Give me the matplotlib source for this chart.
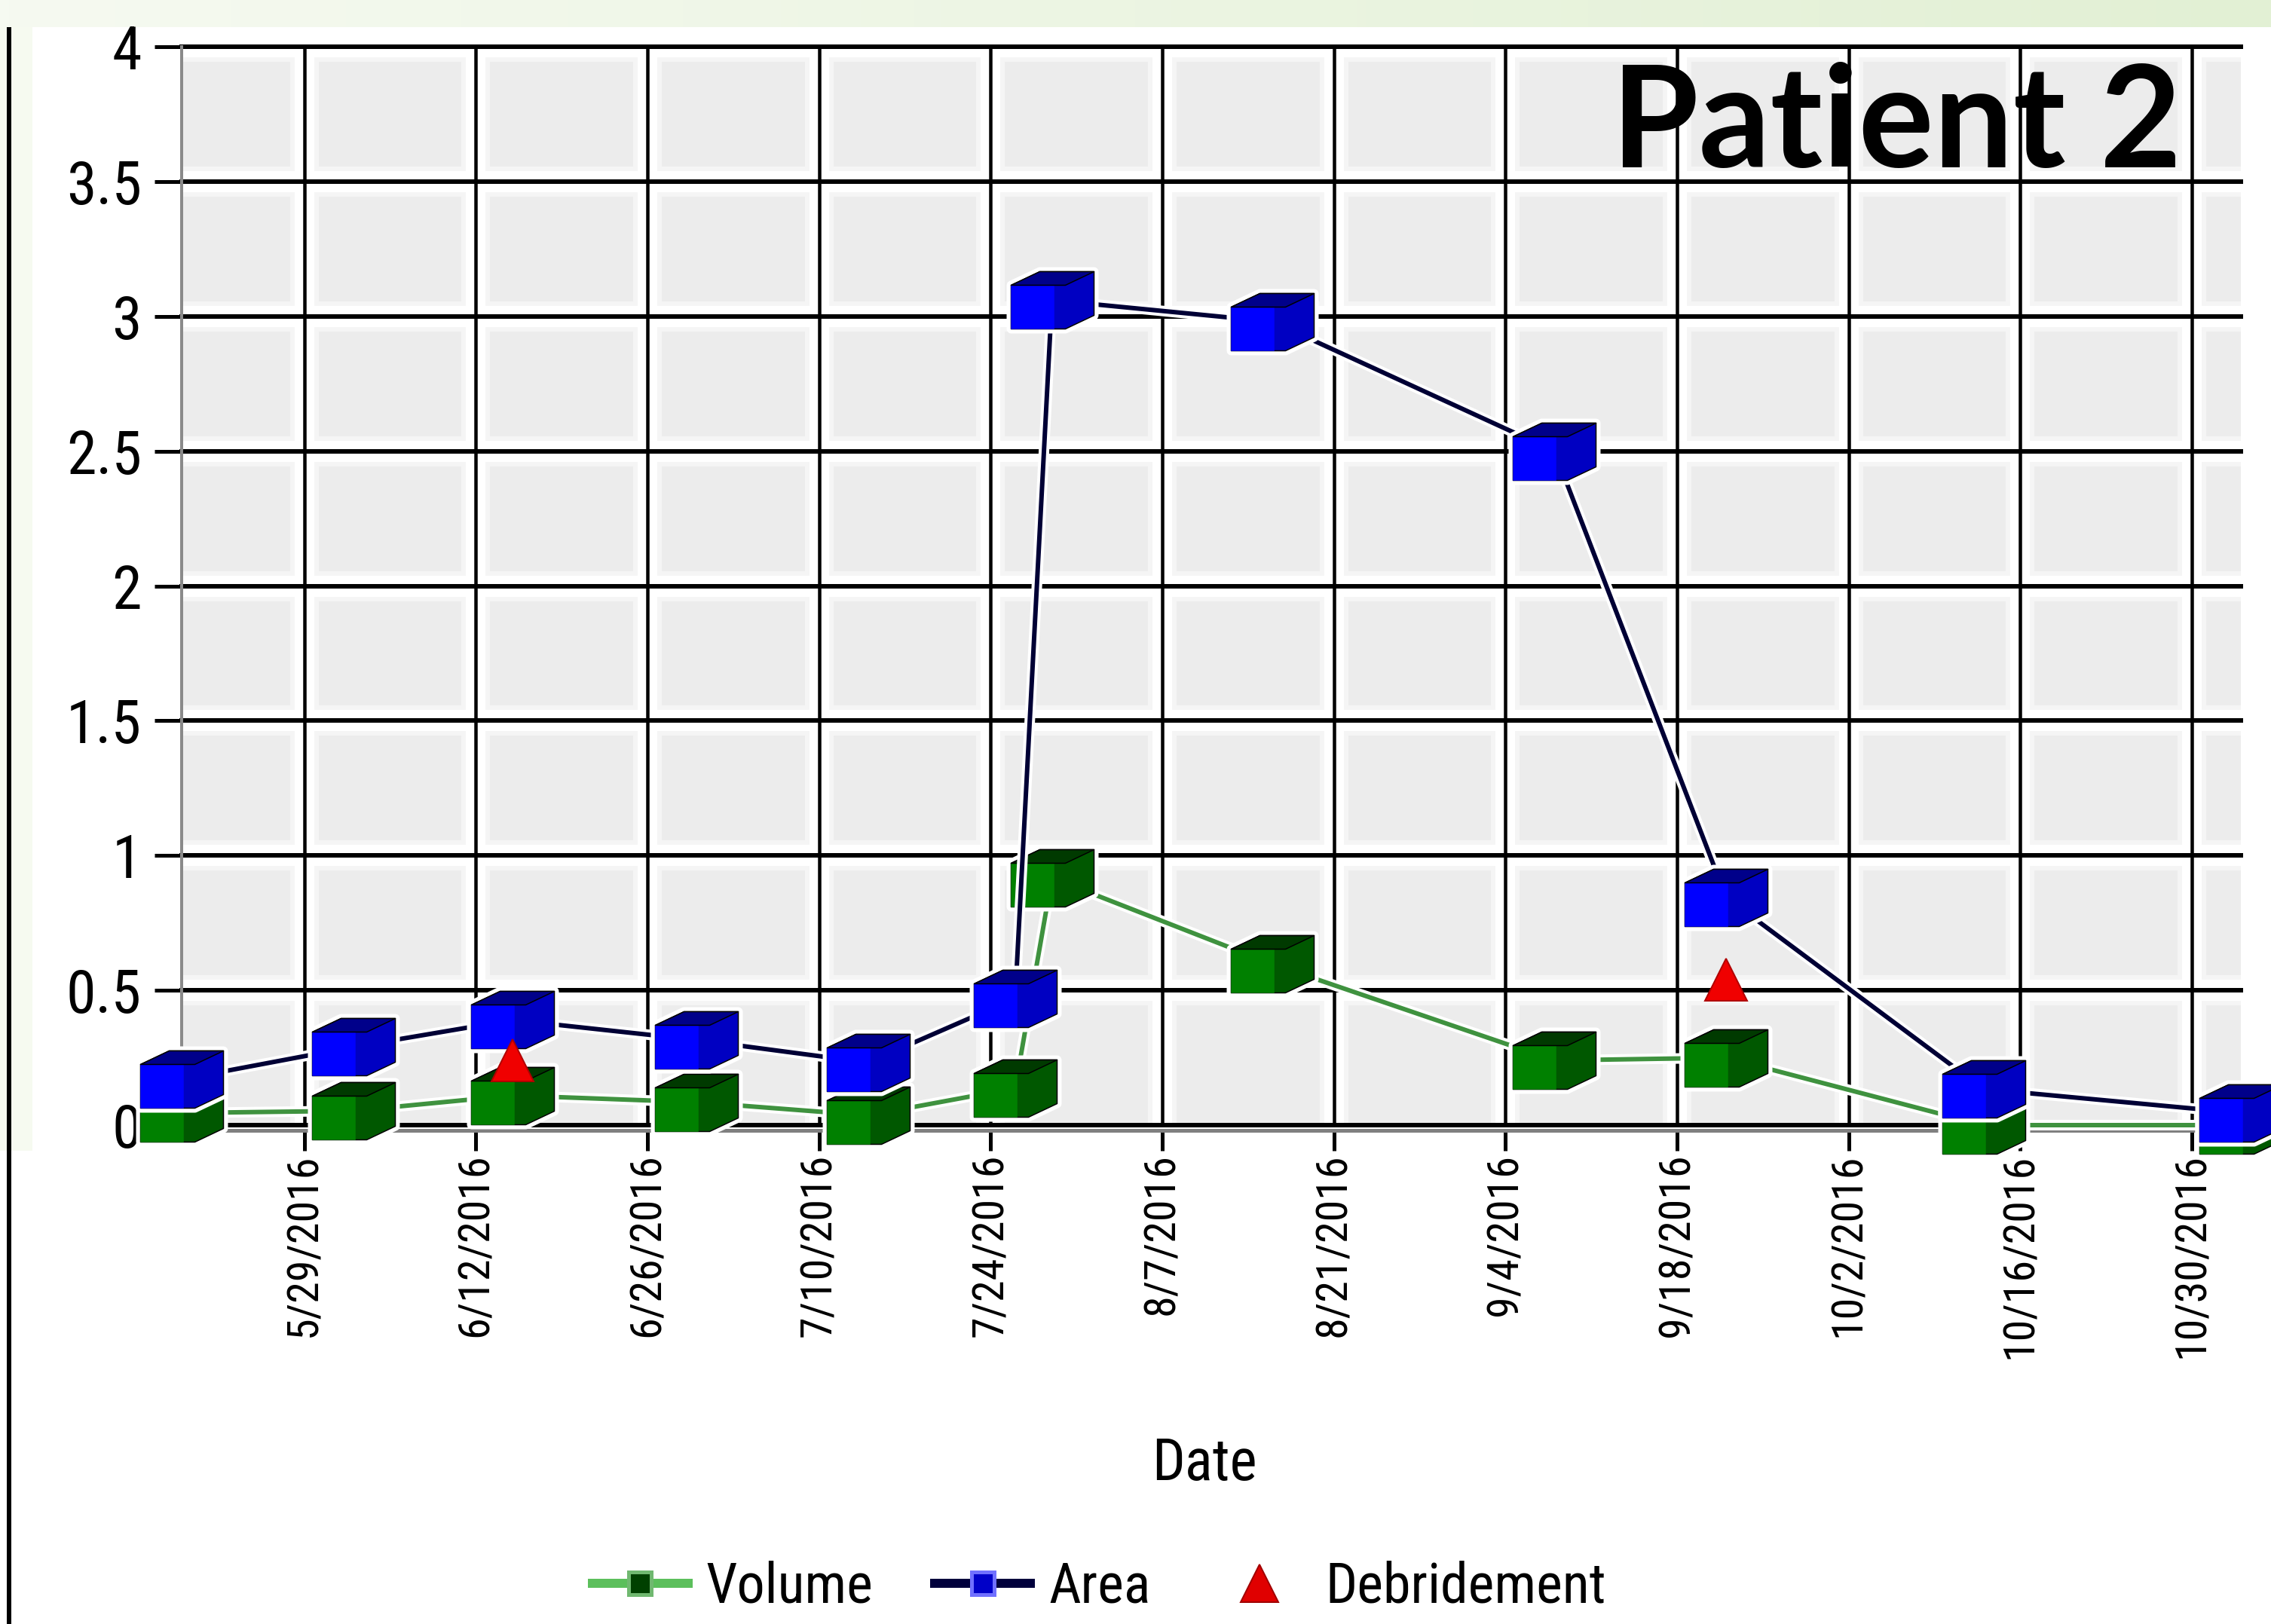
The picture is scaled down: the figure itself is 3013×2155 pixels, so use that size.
import numpy as np
import pandas as pd
import matplotlib
matplotlib.use("Agg")
import matplotlib.pyplot as plt
from matplotlib.path import Path
from matplotlib.lines import Line2D
from matplotlib.patches import Rectangle
from matplotlib.colors import LinearSegmentedColormap
import matplotlib.patheffects as pe
from matplotlib import font_manager as fm

# ---------------- data ----------------
dates = pd.to_datetime(['2016-05-19', '2016-06-02', '2016-06-15', '2016-06-30',
                        '2016-07-14', '2016-07-26', '2016-07-29', '2016-08-16',
                        '2016-09-08', '2016-09-22', '2016-10-13', '2016-11-03'])
volume = [0.045, 0.053, 0.11, 0.085, 0.036, 0.137, 0.917, 0.597, 0.24, 0.25, 0.0, 0.0]
area = [0.17, 0.29, 0.39, 0.316, 0.232, 0.47, 3.06, 2.98, 2.50, 0.845, 0.134, 0.045]
debr_dates = pd.to_datetime(['2016-06-15', '2016-09-22'])
debr_values = [0.24, 0.54]

x_tick_dates = pd.date_range('2016-05-29', '2016-10-30', freq='14D')
x_tick_labels = [f'{d.month}/{d.day}/{d.year}' for d in x_tick_dates]
y_ticks = [0, 0.5, 1, 1.5, 2, 2.5, 3, 3.5, 4]
y_tick_labels = ['0', '0.5', '1', '1.5', '2', '2.5', '3', '3.5', '4']
x_range = pd.to_datetime(['2016-05-19', '2016-11-03'])
y_range = (0, 4)
series_names = ['Volume', 'Area', 'Debridement']
title_text = 'Patient 2'
x_label = 'Date'

# ---------------- styling ----------------
W, H, DPI = 3013, 2155, 100
PX = 72.0 / DPI  # points per pixel

avail = {f.name for f in fm.fontManager.ttflist}
NARROW = next((f for f in ['Liberation Sans Narrow', 'DejaVu Sans Condensed',
                           'Roboto Condensed', 'Liberation Sans'] if f in avail), 'DejaVu Sans')
TITLE_FONT = next((f for f in ['Lato', 'Open Sans', 'Noto Sans'] if f in avail), 'DejaVu Sans')
plt.rcParams['font.family'] = [NARROW, 'DejaVu Sans']

fig = plt.figure(figsize=(W / DPI, H / DPI), dpi=DPI, facecolor='white')

# decorative frame of the screenshot
band = fig.add_axes([0, 1 - 36 / H, 1, 36 / H])
band.axis('off')
band.imshow(np.linspace(0, 1, 256)[None, :], aspect='auto',
            cmap=LinearSegmentedColormap.from_list('g', ['#f6faf1', '#e2f0d4']),
            extent=[0, 1, 0, 1])
fig.patches.append(Rectangle((0, 1 - 1527 / H), 43 / W, 1527 / H, transform=fig.transFigure,
                             facecolor='#f6faf0', edgecolor='none', zorder=-2))
fig.patches.append(Rectangle((9 / W, 0), 6 / W, 1, transform=fig.transFigure,
                             facecolor='black', edgecolor='none', zorder=-1))

# main axes
left, right, top, bottom = 241, 2973, 62, 1493
ax = fig.add_axes([left / W, 1 - bottom / H, (right - left) / W, (bottom - top) / H])
ax.set_facecolor('#ececec')
ax.set_xlim(x_range[0], x_range[1])
ax.set_ylim(*y_range)

# grid with white halos (back wall look)
for y in y_ticks[1:]:
    ax.axhline(y, color='#f5f5f5', lw=40 * PX, zorder=0.2)
    ax.axhline(y, color='white', lw=28 * PX, zorder=0.3)
for d in x_tick_dates:
    ax.axvline(d, color='#f5f5f5', lw=38 * PX, zorder=0.2)
    ax.axvline(d, color='white', lw=26 * PX, zorder=0.3)
for y in y_ticks:
    ax.axhline(y, color='black', lw=6 * PX, zorder=0.6, clip_on=False)
for d in x_tick_dates:
    ax.axvline(d, color='black', lw=4.5 * PX, zorder=0.6)

for s in ['top', 'right']:
    ax.spines[s].set_visible(False)
ax.spines['left'].set_color('#8a8a8a')
ax.spines['left'].set_linewidth(4 * PX)
ax.spines['bottom'].set_color('#808080')
ax.spines['bottom'].set_linewidth(5 * PX)
ax.spines['bottom'].set_position(('outward', 6.5 * PX))

ax.set_xticks(x_tick_dates)
ax.set_xticklabels(x_tick_labels, rotation=90, fontsize=58 * PX)
ax.set_yticks(y_ticks)
ax.set_yticklabels(y_tick_labels, fontsize=80 * PX)
ax.tick_params(axis='x', length=27 * PX, width=5 * PX, color='black', pad=4 * PX)
ax.tick_params(axis='y', length=36 * PX, width=5 * PX, color='black', pad=17 * PX)

lab = ax.set_xlabel(x_label, fontsize=77 * PX)
lab.set_va('baseline')
ax.xaxis.set_label_coords((1598 - left) / (right - left), (bottom - 1964) / (bottom - top))


# ---------------- 3D-looking cube markers ----------------
def poly(points):
    verts = list(points) + [points[0]]
    codes = [Path.MOVETO] + [Path.LINETO] * (len(points) - 1) + [Path.CLOSEPOLY]
    return Path(verts, codes)


silhouette = poly([(-55, -38), (-55, 20), (-17, 38), (55, 38), (55, -20), (17, -38)])
front_bright = poly([(-55, -38), (-55, 20), (2, 20), (2, -38)])
top_face = poly([(-55, 20), (-17, 38), (55, 38), (17, 20)])
CUBE_MS = 110 * PX


def cubes(x, y, bright, dark, topc, z):
    kw = dict(linestyle='none', markersize=CUBE_MS, clip_on=False)
    ax.plot(x, y, marker=silhouette, mfc='white', mec='white', mew=12 * PX, zorder=z, **kw)
    ax.plot(x, y, marker=silhouette, mfc=dark, mec='black', mew=1.5 * PX, zorder=z + 0.01, **kw)
    ax.plot(x, y, marker=front_bright, mfc=bright, mec=bright, mew=0.5 * PX, zorder=z + 0.02, **kw)
    ax.plot(x, y, marker=top_face, mfc=topc, mec='black', mew=1.5 * PX, zorder=z + 0.03, **kw)


VOL_LINE, AREA_LINE = '#3f923f', '#000035'
halo = [pe.Stroke(linewidth=14 * PX, foreground='white'), pe.Normal()]

ax.plot(dates, volume, color=VOL_LINE, lw=6 * PX, zorder=3, clip_on=False, path_effects=halo)
cubes(dates, volume, '#008000', '#005800', '#003a00', 3.1)
ax.plot(dates, area, color=AREA_LINE, lw=6 * PX, zorder=4, clip_on=False, path_effects=halo)
cubes(dates, area, '#0000ff', '#0000c2', '#00008a', 4.1)
ax.plot(debr_dates, debr_values, linestyle='none', marker='^', markersize=56 * PX,
        mfc='#f00000', mec='#b00000', mew=2 * PX, zorder=5, clip_on=False)

# ---------------- title & legend ----------------
fig.text(2895 / W, 1 - 222 / H, title_text, ha='right', va='baseline',
         fontsize=187 * PX, fontweight='bold', family=TITLE_FONT, color='black')

handles = [
    Line2D([], [], color='#5cbf5c', lw=12 * PX, marker='s', markersize=30 * PX,
           mfc='#004000', mec='#70b870', mew=5 * PX),
    Line2D([], [], color='#00003c', lw=12 * PX, marker='s', markersize=30 * PX,
           mfc='#0000c8', mec='#7070ff', mew=5 * PX),
    Line2D([], [], linestyle='none', marker='^', markersize=50 * PX,
           mfc='#e00000', mec='#a00000', mew=2 * PX),
]
fig.legend(handles, series_names, loc='center', ncol=3,
           bbox_to_anchor=(1458.5 / W, 1 - 2106 / H), bbox_transform=fig.transFigure,
           frameon=False, fontsize=74 * PX, handlelength=1.72, handletextpad=0.32,
           columnspacing=1.1, borderpad=0, borderaxespad=0)

fig.savefig('out.png', dpi=DPI, facecolor='white')
